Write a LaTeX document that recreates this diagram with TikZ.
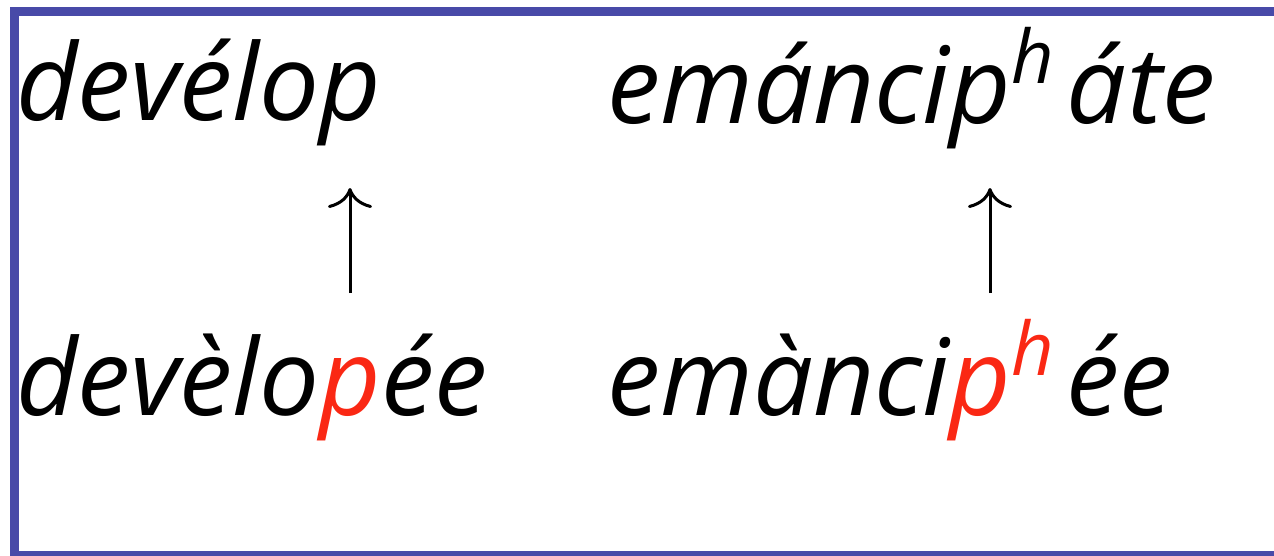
\documentclass[tikz,border=0pt]{standalone}
\usepackage{fontspec}
\setmainfont{Open Sans}
\usetikzlibrary{arrows.meta}
\definecolor{frameblue}{RGB}{72,74,168}
\definecolor{hired}{RGB}{250,40,20}
\newcommand{\supr}[1]{\raisebox{40pt}{\fontsize{74}{80}\selectfont\itshape #1}}
\tikzset{
  word/.style={anchor=base west, inner sep=0pt, font=\fontsize{106.5}{112}\selectfont\itshape},
  uparr/.style={line width=3pt, -{Computer Modern Rightarrow[length=20pt,width=44pt,line width=3pt]}}
}
\begin{document}
\begin{tikzpicture}[x=1pt,y=-1pt]
\useasboundingbox (0,0) rectangle (1274,555);
\draw[frameblue, line width=9pt] (14.5,11.5) rectangle (1300,555);
\node[word] (w1) at (16,120) {devélop};
\node[word] (w2) at (607,123) {emáncip\supr{h}\kern13pt áte};
\node[word] (w3) at (16,415) {devèlo{\color{hired}p}ée};
\node[word] (w4) at (607,415) {emànci{\color{hired}p\supr{h}}\kern13pt ée};
\coordinate (a1s) at (350,293);
\coordinate (a1e) at (350,188);
\coordinate (a2s) at (990,293);
\coordinate (a2e) at (990,188);
\draw[uparr] (a1s) -- (a1e);
\draw[uparr] (a2s) -- (a2e);
\end{tikzpicture}
\end{document}
